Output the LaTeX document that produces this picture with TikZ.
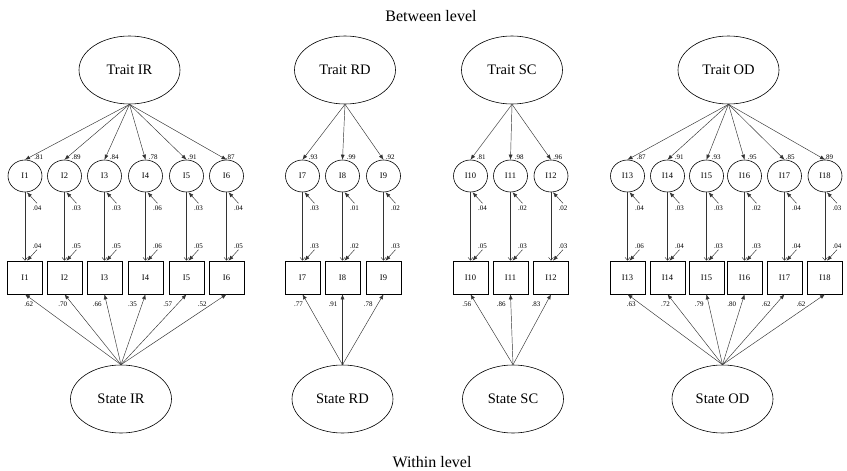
\documentclass[tikz,border=0pt]{standalone}
\usepackage{fontspec}
\setmainfont{Liberation Serif}
\usetikzlibrary{shapes,arrows.meta,positioning}

\tikzset{
  latent/.style={ellipse,draw,line width=0.6pt,minimum width=101pt,minimum height=68pt,inner sep=0pt,font=\fontsize{14.5}{16}\selectfont},
  factor/.style={ellipse,draw,line width=0.6pt,minimum width=34pt,minimum height=32pt,inner sep=0pt,font=\fontsize{8.5}{10}\selectfont},
  indicator/.style={rectangle,draw,line width=0.6pt,minimum width=35pt,minimum height=33pt,inner sep=0pt,font=\fontsize{8.5}{10}\selectfont},
  coef/.style={font=\fontsize{7}{8}\selectfont,inner sep=1pt},
  link/.style={-{Latex[length=5pt,width=4pt]},draw=black!80,line width=0.45pt},
  level/.style={font=\fontsize{16}{18}\selectfont}
}

\begin{document}
\begin{tikzpicture}[x=1pt,y=-1pt]
    \useasboundingbox (0,0) rectangle (847,471);

    % Level titles
    \node[level] (between) at (431,16) {Between level};
    \node[level] (within) at (432,462) {Within level};

    % Trait factors
    \node[latent] (tIR) at (129.5,70) {Trait IR};
    \node[latent] (tRD) at (345,70) {Trait RD};
    \node[latent] (tSC) at (512,70) {Trait SC};
    \node[latent] (tOD) at (728.5,70) {Trait OD};

    % State factors
    \node[latent] (sIR) at (121,399) {State IR};
    \node[latent] (sRD) at (342.5,399) {State RD};
    \node[latent] (sSC) at (513,399) {State SC};
    \node[latent] (sOD) at (722.5,399) {State OD};

    % Items: number/x/trait loading/residual/residual/state loading/factor
    \foreach \i/\x/\tl/\ra/\rb/\sl/\g in {
        1/25/.81/.04/.04/.62/IR, 2/64.5/.89/.03/.05/.70/IR, 3/104.5/.84/.03/.05/.66/IR,
        4/145.5/.78/.06/.06/.35/IR, 5/186.5/.91/.03/.05/.57/IR, 6/226.5/.87/.04/.05/.52/IR,
        7/302.5/.93/.03/.03/.77/RD, 8/342.5/.99/.01/.02/.91/RD, 9/383.5/.92/.02/.03/.78/RD,
        10/470.5/.81/.04/.05/.56/SC, 11/510.5/.98/.02/.03/.86/SC, 12/551/.96/.02/.03/.83/SC,
        13/627.5/.87/.04/.06/.63/OD, 14/667.5/.91/.03/.04/.72/OD, 15/706.5/.93/.03/.03/.79/OD,
        16/744.5/.95/.02/.03/.80/OD, 17/784.5/.85/.04/.04/.62/OD, 18/825/.89/.03/.04/.62/OD}{
        \node[factor] (f\i) at (\x,176) {I\i};
        \node[indicator] (y\i) at (\x,277.5) {I\i};

        % loadings
        \draw[link] (t\g.south) -- (f\i.north) node[coef,pos=0.95,right,xshift=3pt] {\tl};
        \draw[link] (s\g.north) -- (y\i.south) node[coef,pos=0.86,left,xshift=-4pt] {\sl};
        \draw[link,-{Straight Barb[length=3pt,width=5pt]}] (f\i.south) -- (y\i.north);

        % residuals
        \coordinate (ef\i) at ([shift={(12,11)}]f\i.south);
        \coordinate (ey\i) at ([shift={(12,-11)}]y\i.north);
        \draw[link] (ef\i) -- ([xshift=2pt]f\i.south);
        \draw[link] (ey\i) -- ([xshift=2pt]y\i.north);
        \node[coef,below=1.5pt] at (ef\i) {\ra};
        \node[coef,above] at (ey\i) {\rb};
    }
\end{tikzpicture}
\end{document}
